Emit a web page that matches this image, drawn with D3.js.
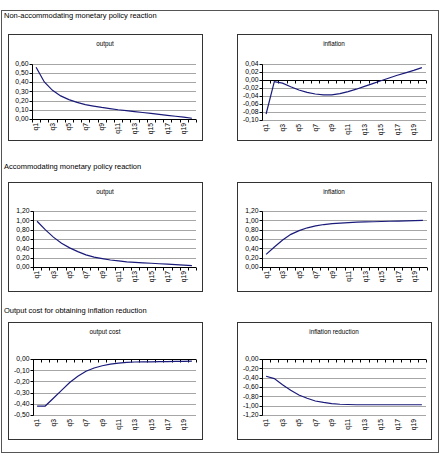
<!DOCTYPE html>
<head>
<meta charset="utf-8">
<title>Monetary policy reaction</title>
<style>
  body { margin: 0; padding: 0; background: #fff; font-family: 'Liberation Sans', Arial, sans-serif; }
  .section text { font-size: 7.5px; fill: #000; }
  .chart-title { font-size: 6.3px; fill: #000; }
  .tick-label { font-size: 6.8px; fill: #000; }
  .grid line { stroke: #a6a6a6; stroke-width: 1; }
  .axis line { stroke: #000; stroke-width: 1; }
  .series { fill: none; stroke: #1a1a7a; stroke-width: 1.2; }
</style>
</head>
<body>
<div id="vis"></div>
<script src="https://cdn.jsdelivr.net/npm/d3@7"></script>
<script>
  var categories = ["q1", "q2", "q3", "q4", "q5", "q6", "q7", "q8", "q9", "q10",
                    "q11", "q12", "q13", "q14", "q15", "q16", "q17", "q18", "q19", "q20"];
  var labelledCats = ["q1", "q3", "q5", "q7", "q9", "q11", "q13", "q15", "q17", "q19"];

  var sectionTitles = ["Non-accommodating monetary policy reaction",
                       "Accommodating monetary policy reaction",
                       "Output cost for obtaining inflation reduction"];
  var chartTitles = ["output", "inflation", "output", "inflation", "output cost", "inflation reduction"];

  // series values
  var outputNonAcc = [0.56, 0.40, 0.31, 0.25, 0.21, 0.18, 0.155, 0.14, 0.125, 0.112,
                      0.10, 0.09, 0.08, 0.07, 0.06, 0.05, 0.04, 0.03, 0.02, 0.008];
  var inflationNonAcc = [-0.085, -0.004, -0.008, -0.017, -0.025, -0.031, -0.035, -0.037, -0.037, -0.034,
                         -0.029, -0.023, -0.016, -0.009, -0.002, 0.005, 0.012, 0.018, 0.024, 0.031];
  var outputAcc = [0.98, 0.80, 0.64, 0.51, 0.41, 0.33, 0.26, 0.21, 0.18, 0.15,
                   0.13, 0.11, 0.10, 0.09, 0.08, 0.07, 0.06, 0.05, 0.04, 0.03];
  var inflationAcc = [0.27, 0.43, 0.58, 0.70, 0.78, 0.84, 0.88, 0.91, 0.93, 0.94,
                      0.95, 0.96, 0.965, 0.97, 0.975, 0.98, 0.985, 0.99, 0.995, 1.00];
  var outputCost = [-0.42, -0.42, -0.35, -0.28, -0.21, -0.155, -0.11, -0.08, -0.06, -0.045,
                    -0.036, -0.03, -0.027, -0.026, -0.025, -0.024, -0.023, -0.022, -0.021, -0.019];
  var inflationReduction = [-0.37, -0.42, -0.55, -0.67, -0.77, -0.84, -0.90, -0.93, -0.955, -0.97,
                            -0.975, -0.98, -0.98, -0.98, -0.98, -0.98, -0.98, -0.98, -0.98, -0.98];

  var ticksOutputNonAcc = [0, 0.1, 0.2, 0.3, 0.4, 0.5, 0.6];
  var ticksInflationNonAcc = [-0.10, -0.08, -0.06, -0.04, -0.02, 0, 0.02, 0.04];
  var ticksAcc = [0, 0.2, 0.4, 0.6, 0.8, 1.0, 1.2];
  var ticksOutputCost = [-0.5, -0.4, -0.3, -0.2, -0.1, 0];
  var ticksInflationReduction = [-1.2, -1.0, -0.8, -0.6, -0.4, -0.2, 0];

  var W = 443, H = 456;
  var svg = d3.select("#vis").append("svg")
    .attr("width", W)
    .attr("height", H);

  // outer frame
  svg.append("rect")
    .attr("x", 1.5).attr("y", 10.5)
    .attr("width", 437).attr("height", 442)
    .attr("fill", "none").attr("stroke", "#555");

  var sectionY = [18, 169, 313];
  svg.append("g").attr("class", "section")
    .selectAll("text")
    .data(sectionTitles)
    .enter().append("text")
      .attr("x", 4)
      .attr("y", function(d, i) { return sectionY[i]; })
      .text(function(d) { return d; });

  var fmt = function(v) {
    return d3.format(".2f")(v).replace(".", ",").replace("−", "-");
  };

  // box: panel rect; plot: [left, right, top(ymax), bottom(ymin)]
  var charts = [
    { title: chartTitles[0], values: outputNonAcc, ticks: ticksOutputNonAcc,
      box: [8, 34, 194, 106], plot: [32, 196, 63.5, 119] },
    { title: chartTitles[1], values: inflationNonAcc, ticks: ticksInflationNonAcc,
      box: [237, 34, 194, 106], plot: [262, 426, 64, 120] },
    { title: chartTitles[2], values: outputAcc, ticks: ticksAcc,
      box: [8, 182, 194, 109], plot: [33, 196, 211, 267] },
    { title: chartTitles[3], values: inflationAcc, ticks: ticksAcc,
      box: [237, 182, 194, 109], plot: [262, 427, 211, 267] },
    { title: chartTitles[4], values: outputCost, ticks: ticksOutputCost,
      box: [8, 322, 194, 117], plot: [33, 196, 359, 415] },
    { title: chartTitles[5], values: inflationReduction, ticks: ticksInflationReduction,
      box: [237, 322, 194, 117], plot: [262, 426, 359, 415] }
  ];

  charts.forEach(function(c) {
    var g = svg.append("g");
    var b = c.box, p = c.plot;

    g.append("rect")
      .attr("x", b[0] + 0.5).attr("y", b[1] + 0.5)
      .attr("width", b[2]).attr("height", b[3])
      .attr("fill", "#fff").attr("stroke", "#333");

    g.append("text")
      .attr("class", "chart-title")
      .attr("x", b[0] + b[2] / 2)
      .attr("y", b[1] + 12)
      .attr("text-anchor", "middle")
      .text(c.title);

    var x = d3.scaleBand().domain(categories).range([p[0], p[1]]);
    var y = d3.scaleLinear()
      .domain(d3.extent(c.ticks))
      .range([p[3], p[2]]);

    // gridlines
    g.append("g").attr("class", "grid")
      .selectAll("line")
      .data(c.ticks)
      .enter().append("line")
        .attr("x1", p[0]).attr("x2", p[1])
        .attr("y1", function(d) { return Math.round(y(d)) + 0.5; })
        .attr("y2", function(d) { return Math.round(y(d)) + 0.5; });

    var ax = g.append("g").attr("class", "axis");
    var y0 = Math.round(y(0)) + 0.5;
    var xl = Math.round(p[0]) + 0.5;

    // y axis
    ax.append("line")
      .attr("x1", xl).attr("x2", xl)
      .attr("y1", Math.round(y.range()[1]) + 0.5)
      .attr("y2", Math.round(y.range()[0]) + 0.5);
    ax.selectAll("line.ytick")
      .data(c.ticks)
      .enter().append("line")
        .attr("class", "ytick")
        .attr("x1", xl - 3).attr("x2", xl)
        .attr("y1", function(d) { return Math.round(y(d)) + 0.5; })
        .attr("y2", function(d) { return Math.round(y(d)) + 0.5; });
    g.selectAll("text.ylab")
      .data(c.ticks)
      .enter().append("text")
        .attr("class", "tick-label")
        .attr("x", xl - 4)
        .attr("y", function(d) { return y(d); })
        .attr("dy", "0.35em")
        .attr("text-anchor", "end")
        .text(fmt);

    // x axis at zero
    ax.append("line")
      .attr("x1", xl).attr("x2", p[1])
      .attr("y1", y0).attr("y2", y0);
    var bounds = categories.map(function(d) { return x(d); }).concat([p[1]]);
    ax.selectAll("line.xtick")
      .data(bounds)
      .enter().append("line")
        .attr("class", "xtick")
        .attr("x1", function(d) { return Math.round(d) + 0.5; })
        .attr("x2", function(d) { return Math.round(d) + 0.5; })
        .attr("y1", y0).attr("y2", y0 + 3);

    var bottom = y.range()[0];
    g.selectAll("text.xlab")
      .data(labelledCats)
      .enter().append("text")
        .attr("class", "tick-label")
        .attr("transform", function(d) {
          return "translate(" + [x(d) + x.bandwidth() / 2, bottom + 4] + ") rotate(-90)";
        })
        .attr("dy", "0.35em")
        .attr("text-anchor", "end")
        .text(function(d) { return d; });

    var line = d3.line()
      .x(function(d, i) { return x(categories[i]) + x.bandwidth() / 2; })
      .y(function(d) { return y(d); });

    g.append("path")
      .datum(c.values)
      .attr("class", "series")
      .attr("d", line);
  });
</script>
</body>
